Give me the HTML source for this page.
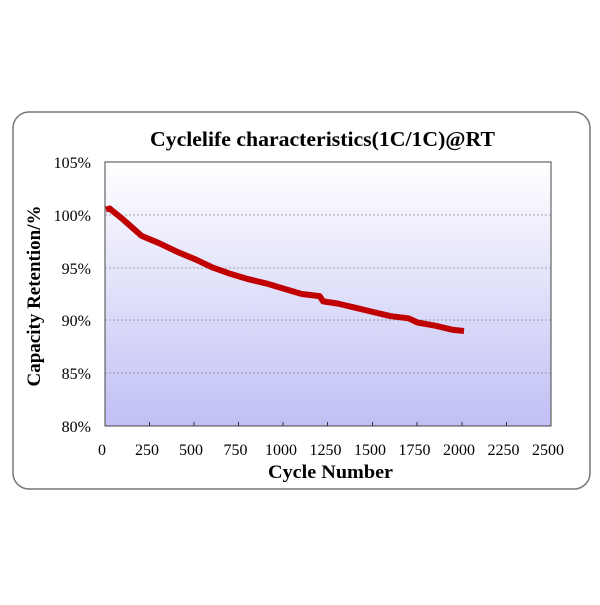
<!DOCTYPE html>
<html><head><style>body{margin:0;background:#fff}</style></head><body>
<svg width="600" height="600" xmlns="http://www.w3.org/2000/svg" font-family="Liberation Serif, serif">
<defs><linearGradient id="g" x1="0" y1="0" x2="0" y2="1"><stop offset="0" stop-color="#ffffff"/><stop offset="1" stop-color="#c0c0f5"/></linearGradient></defs>
<rect x="13" y="112" width="577" height="377" rx="16" fill="#fff" stroke="#777" stroke-width="1.5"/>
<rect x="105" y="162" width="446" height="264" fill="url(#g)" stroke="#444" stroke-width="1"/>
<g stroke="#888" stroke-dasharray="2,2" stroke-width="0.8">
<line x1="105" x2="551" y1="215" y2="215"/><line x1="105" x2="551" y1="268" y2="268"/><line x1="105" x2="551" y1="320" y2="320"/><line x1="105" x2="551" y1="373" y2="373"/></g>
<g stroke="#333"><line x1="149.5" x2="149.5" y1="426" y2="422"/><line x1="194" x2="194" y1="426" y2="422"/><line x1="238.5" x2="238.5" y1="426" y2="422"/><line x1="283" x2="283" y1="426" y2="422"/><line x1="327.5" x2="327.5" y1="426" y2="422"/><line x1="372.5" x2="372.5" y1="426" y2="422"/><line x1="417" x2="417" y1="426" y2="422"/><line x1="462" x2="462" y1="426" y2="422"/><line x1="506.5" x2="506.5" y1="426" y2="422"/></g>
<polyline fill="none" stroke="#c00000" stroke-width="6" stroke-linejoin="round" points="106,209.5 109.6,208.5 123.8,220.1 141.6,235.9 159.4,243.3 177.2,251.8 195,259.2 212.8,267.6 230.6,273.9 248.4,279.2 266.2,283.4 284,288.7 301.8,294 319.6,296.1 323.2,301.4 337.4,303.5 355.2,307.7 373,312 390.8,316.2 408.6,318.3 417.5,322.5 435.3,325.7 453.1,329.9 464,331"/>
<text x="150" y="146" font-size="21" font-weight="bold" textLength="345" lengthAdjust="spacingAndGlyphs">Cyclelife characteristics(1C/1C)@RT</text>
<g font-size="16" text-anchor="end"><text x="91" y="168">105%</text><text x="91" y="221">100%</text><text x="91" y="274">95%</text><text x="91" y="326">90%</text><text x="91" y="379">85%</text><text x="91" y="432">80%</text></g>
<g font-size="16" text-anchor="middle"><text x="102" y="455">0</text><text x="147" y="455">250</text><text x="191" y="455">500</text><text x="235.5" y="455">750</text><text x="281" y="455">1000</text><text x="325.5" y="455">1250</text><text x="370" y="455">1500</text><text x="414.5" y="455">1750</text><text x="459" y="455">2000</text><text x="503.5" y="455">2250</text><text x="548" y="455">2500</text></g>
<text x="268" y="478" font-size="19" font-weight="bold" textLength="125" lengthAdjust="spacingAndGlyphs">Cycle Number</text>
<text transform="translate(40,296) rotate(-90)" font-size="19" font-weight="bold" text-anchor="middle">Capacity Retention/%</text>
</svg>
</body></html>
